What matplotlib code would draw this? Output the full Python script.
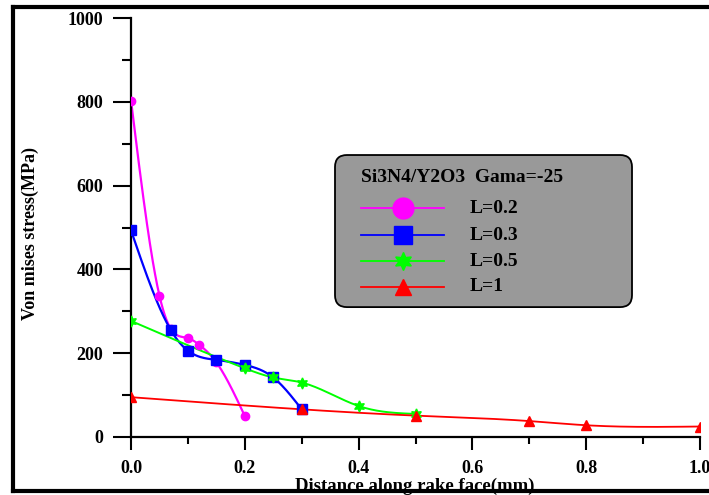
import matplotlib
matplotlib.use("Agg")
import matplotlib.pyplot as plt
from matplotlib.lines import Line2D
from matplotlib.patches import FancyBboxPatch
from matplotlib.ticker import MultipleLocator
import numpy as np

# --- data ---
x_02 = [0.0, 0.05, 0.07, 0.10, 0.12, 0.15, 0.20]
y_02 = [803, 337, 258, 236, 220, 178, 50]

x_03 = [0.0, 0.07, 0.10, 0.15, 0.20, 0.25, 0.30]
y_03 = [493, 255, 206, 184, 172, 142, 66]

x_05 = [0.0, 0.20, 0.25, 0.30, 0.40, 0.50]
y_05 = [277, 164, 142, 130, 74, 55]

x_1 = [0.0, 0.30, 0.50, 0.70, 0.80, 1.00]
y_1 = [95, 66, 51, 38, 28, 25]

labels = ["L=0.2", "L=0.3", "L=0.5", "L=1"]
colors = ["#ff00ff", "#0000ff", "#00ff00", "#ff0000"]
markers = ["o", "s", (6, 1, 0), "^"]
legend_title = "Si3N4/Y2O3  Gama=-25"
xlabel = "Distance along rake face(mm)"
ylabel = "Von mises stress(MPa)"

plt.rcParams['font.family'] = ['Liberation Serif', 'DejaVu Serif']
plt.rcParams['font.weight'] = 'bold'


# natural cubic spline, only used to draw the connecting curve smoothly
def smooth(x, y, n=200):
    x = np.asarray(x, float)
    y = np.asarray(y, float)
    k = len(x)
    h = np.diff(x)
    A = np.zeros((k, k))
    b = np.zeros(k)
    A[0, 0] = A[-1, -1] = 1
    for i in range(1, k - 1):
        A[i, i - 1] = h[i - 1]
        A[i, i] = 2 * (h[i - 1] + h[i])
        A[i, i + 1] = h[i]
        b[i] = 6 * ((y[i + 1] - y[i]) / h[i] - (y[i] - y[i - 1]) / h[i - 1])
    M = np.linalg.solve(A, b)
    xs = np.linspace(x[0], x[-1], n)
    idx = np.clip(np.searchsorted(x, xs) - 1, 0, k - 2)
    x0, x1 = x[idx], x[idx + 1]
    hh = x1 - x0
    t0, t1 = x1 - xs, xs - x0
    ys = (M[idx] * t0**3 / (6 * hh) + M[idx + 1] * t1**3 / (6 * hh)
          + (y[idx] / hh - M[idx] * hh / 6) * t0
          + (y[idx + 1] / hh - M[idx + 1] * hh / 6) * t1)
    return xs, ys


fig = plt.figure(figsize=(7.09, 4.95), dpi=100)
ax = fig.add_axes([0.1848, 0.1172, 0.8025, 0.8464])

series = [(x_02, y_02), (x_03, y_03), (x_05, y_05), (x_1, y_1)]
msizes = [6, 7, 8, 6.5]
lws = [1.6, 1.6, 1.4, 1.3]
for (xx, yy), c, m, ms, lw in zip(series, colors, markers, msizes, lws):
    xs, ys = smooth(xx, yy)
    ax.plot(xs, ys, color=c, lw=lw, zorder=2)
    ax.plot(xx, yy, ls='none', marker=m, ms=ms, color=c, mec=c, zorder=3)

ax.set_xlim(0, 1.0)
ax.set_ylim(0, 1000)
ax.xaxis.set_major_locator(MultipleLocator(0.2))
ax.xaxis.set_minor_locator(MultipleLocator(0.1))
ax.yaxis.set_major_locator(MultipleLocator(200))
ax.yaxis.set_minor_locator(MultipleLocator(100))
ticks = np.arange(0, 1.01, 0.2)
ax.set_xticks(ticks)
ax.set_xticklabels([f"{v:.1f}" for v in ticks])

for s in ['top', 'right']:
    ax.spines[s].set_visible(False)
for s in ['left', 'bottom']:
    ax.spines[s].set_linewidth(1.6)

ax.tick_params(axis='y', which='major', direction='out', length=13, width=1.5,
               pad=7, labelsize=13)
ax.tick_params(axis='y', which='minor', direction='out', length=6.5, width=1.5)
ax.tick_params(axis='x', which='major', direction='out', length=9.5, width=1.5,
               pad=7, labelsize=13)
ax.tick_params(axis='x', which='minor', direction='out', length=5, width=1.5)
for lab in ax.get_xticklabels() + ax.get_yticklabels():
    lab.set_fontweight('bold')

ax.set_xlabel(xlabel, fontsize=13.5, fontweight='bold', va='center')
ax.set_ylabel(ylabel, fontsize=13, fontweight='bold', va='center')
ax.xaxis.set_label_coords(0.499, -0.118)
ax.yaxis.set_label_coords(-0.177, 0.486)

# legend box drawn by hand (axes fraction coordinates)
box = FancyBboxPatch((0.3585, 0.310), 0.522, 0.363, transform=ax.transAxes,
                     boxstyle='round,pad=0,rounding_size=0.021',
                     mutation_aspect=1.358, facecolor='#999999',
                     edgecolor='black', lw=1.3, zorder=5)
ax.add_patch(box)
ax.text(0.404, 0.6205, legend_title, transform=ax.transAxes, ha='left',
        va='center', fontsize=14, fontweight='bold', zorder=6)
rows = [0.5465, 0.4821, 0.4200, 0.3580]
leg_ms = [15, 13, 13, 12]
for c, m, s, lab, fy in zip(colors, markers, leg_ms, labels, rows):
    ax.add_line(Line2D([0.4042, 0.5501], [fy, fy], transform=ax.transAxes,
                       color=c, lw=1.3, zorder=6))
    ax.add_line(Line2D([0.4772], [fy], transform=ax.transAxes, ls='none',
                       marker=m, ms=s, color=c, mec=c, zorder=7))
    ax.text(0.5958, fy, lab, transform=ax.transAxes, ha='left', va='center',
            fontsize=14, fontweight='bold', zorder=6)

# outer frame of the original figure
for xs_, ys_ in [([0.0185, 0.0185], [0.009, 0.986]),
                 ([0.0185, 1.0], [0.986, 0.986]),
                 ([0.0185, 1.0], [0.009, 0.009])]:
    fig.add_artist(Line2D(xs_, ys_, color='black', lw=3,
                          transform=fig.transFigure))

fig.savefig("out.png", dpi=100)
